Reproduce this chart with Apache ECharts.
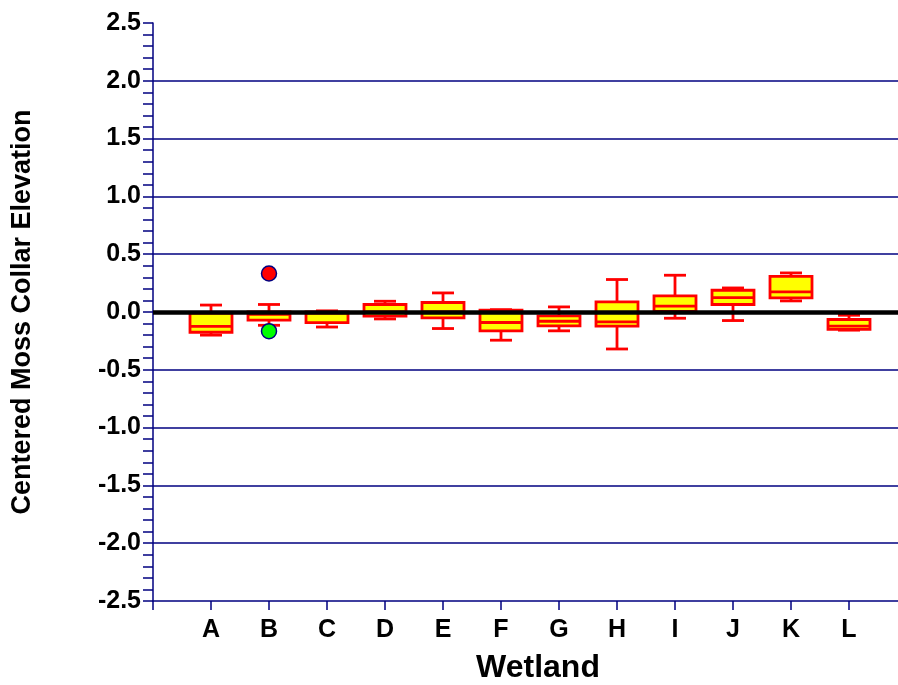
<!DOCTYPE html>
<html>
<head>
<meta charset="utf-8">
<script src="https://cdn.jsdelivr.net/npm/echarts@6/dist/echarts.min.js"></script>
<style>
html,body{margin:0;padding:0;background:#fff;}
#chart{width:898px;height:685px;}
</style>
</head>
<body>
<div id="chart"></div>
<script>
// Categories (wetlands) and box-plot statistics
var categories = ['A','B','C','D','E','F','G','H','I','J','K','L'];
var lows    = [-0.200, -0.115, -0.130, -0.060, -0.143, -0.244, -0.163, -0.320, -0.054, -0.074, 0.096, -0.157];
var q1s     = [-0.175, -0.070, -0.092, -0.035, -0.050, -0.163, -0.120, -0.123,  0.005,  0.065, 0.122, -0.150];
var medians = [-0.125, -0.020, -0.010,  0.000,  0.000, -0.091, -0.080, -0.085,  0.050,  0.125, 0.174, -0.123];
var q3s     = [-0.010,  0.000,  0.000,  0.065,  0.082,  0.015, -0.034,  0.087,  0.139,  0.188, 0.309, -0.065];
var highs   = [ 0.060,  0.065,  0.010,  0.093,  0.165,  0.020,  0.044,  0.281,  0.318,  0.208, 0.338, -0.028];
// Outliers: [category index (1-based), value]
var outliersHigh = [[2, 0.333]];
var outliersLow  = [[2, -0.166]];
var yTicks = [-2.5, -2.0, -1.5, -1.0, -0.5, 0.0, 0.5, 1.0, 1.5, 2.0, 2.5];

var NAVY = '#000080';
var FONT = '"Liberation Sans", Arial, sans-serif';

var boxData = categories.map(function (c, i) {
  return [i + 1, lows[i], q1s[i], medians[i], q3s[i], highs[i]];
});

var chart = echarts.init(document.getElementById('chart'));
chart.setOption({
  backgroundColor: '#fff',
  animation: false,
  grid: { left: 153, top: 23, right: -9, bottom: 84, containLabel: false, outerBoundsMode: 'none' },
  xAxis: {
    type: 'value', min: 0, max: categories.length + 1, interval: 1,
    axisLine: { show: true, onZero: false, lineStyle: { color: NAVY, width: 1.5 } },
    axisTick: { show: true, length: 9, lineStyle: { color: NAVY, width: 1.5 } },
    axisLabel: {
      margin: 17, color: '#000', fontFamily: FONT, fontWeight: 'bold', fontSize: 25,
      formatter: function (v) { return categories[v - 1] || ''; }
    },
    splitLine: { show: false },
    name: 'Wetland', nameLocation: 'middle', nameGap: 51,
    nameTextStyle: { color: '#000', fontFamily: FONT, fontWeight: 'bold', fontSize: 32, padding: [0, 0, 0, 16] }
  },
  yAxis: {
    type: 'value', min: yTicks[0], max: yTicks[yTicks.length - 1], interval: 0.5,
    axisLine: { show: true, lineStyle: { color: NAVY, width: 1.5 } },
    axisTick: { show: true, length: 10, lineStyle: { color: NAVY, width: 1.5 } },
    minorTick: { show: true, splitNumber: 5, length: 10, lineStyle: { color: NAVY, width: 1.5 } },
    axisLabel: {
      margin: 12, color: '#000', fontFamily: FONT, fontWeight: 'bold', fontSize: 25,
      formatter: function (v) { return v.toFixed(1); }
    },
    splitLine: { show: true, showMaxLine: false, showMinLine: false, lineStyle: { color: NAVY, width: 1.5 } },
    name: 'Centered Moss Collar Elevation', nameLocation: 'middle', nameGap: 117,
    nameTextStyle: { color: '#000', fontFamily: FONT, fontWeight: 'bold', fontSize: 27 }
  },
  series: [
    {
      type: 'custom', z: 2,
      data: boxData,
      renderItem: function (params, api) {
        var x = api.value(0);
        var pLo = api.coord([x, api.value(1)]);
        var pQ1 = api.coord([x, api.value(2)]);
        var pMed = api.coord([x, api.value(3)]);
        var pQ3 = api.coord([x, api.value(4)]);
        var pHi = api.coord([x, api.value(5)]);
        var cx = pLo[0];
        var hw = 21, cw = 11;
        var red = { stroke: '#ff0000', lineWidth: 2.8, fill: null };
        return {
          type: 'group',
          children: [
            { type: 'line', shape: { x1: cx, y1: pHi[1], x2: cx, y2: pQ3[1] }, style: red },
            { type: 'line', shape: { x1: cx, y1: pQ1[1], x2: cx, y2: pLo[1] }, style: red },
            { type: 'line', shape: { x1: cx - cw, y1: pHi[1], x2: cx + cw, y2: pHi[1] }, style: red },
            { type: 'line', shape: { x1: cx - cw, y1: pLo[1], x2: cx + cw, y2: pLo[1] }, style: red },
            { type: 'rect', shape: { x: cx - hw, y: pQ3[1], width: 2 * hw, height: pQ1[1] - pQ3[1] },
              style: { fill: '#ffff00', stroke: '#ff0000', lineWidth: 2.8 } },
            { type: 'line', shape: { x1: cx - hw, y1: pMed[1], x2: cx + hw, y2: pMed[1] }, style: red }
          ]
        };
      },
      markLine: {
        silent: true, symbol: ['none', 'none'], z: 5,
        label: { show: false },
        lineStyle: { color: '#000', width: 4.5, type: 'solid' },
        data: [{ yAxis: 0 }]
      }
    },
    {
      type: 'scatter', z: 6, data: outliersHigh, symbol: 'circle', symbolSize: 15,
      itemStyle: { color: '#ff0000', borderColor: NAVY, borderWidth: 1.5, opacity: 1 }
    },
    {
      type: 'scatter', z: 6, data: outliersLow, symbol: 'circle', symbolSize: 15,
      itemStyle: { color: '#00ff00', borderColor: NAVY, borderWidth: 1.5, opacity: 1 }
    }
  ]
});
</script>
</body>
</html>
